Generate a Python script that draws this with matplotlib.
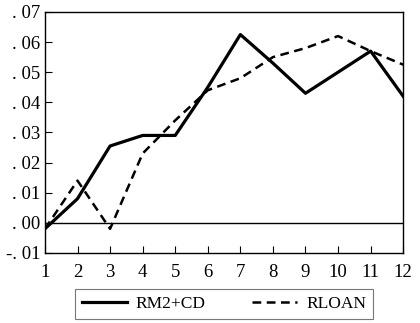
import matplotlib
matplotlib.use('Agg')
import matplotlib.pyplot as plt

months = [1, 2, 3, 4, 5, 6, 7, 8, 9, 10, 11, 12]
rm2_cd = [-0.002, 0.008, 0.0255, 0.029, 0.029, 0.045, 0.0625, 0.053, 0.043, 0.050, 0.057, 0.042]
rloan = [-0.002, 0.014, -0.002, 0.023, 0.034, 0.044, 0.048, 0.055, 0.058, 0.062, 0.057, 0.0525]

y_ticks = [-0.01, 0.0, 0.01, 0.02, 0.03, 0.04, 0.05, 0.06, 0.07]
y_labels = ['-. 01', '. 00', '. 01', '. 02', '. 03', '. 04', '. 05', '. 06', '. 07']

plt.rcParams['font.family'] = ['Liberation Serif', 'DejaVu Serif']

fig = plt.figure(figsize=(4.2, 3.23), dpi=100)
ax = fig.add_axes([0.107, 0.217, 0.853, 0.746])

ax.plot(months, rm2_cd, color='black', lw=2.3, label='RM2+CD')
ax.plot(months, rloan, color='black', lw=1.8, ls=(0, (3.5, 2.2)), label='RLOAN')
ax.axhline(0, color='black', lw=1.0)

ax.set_xlim(1, 12)
ax.set_ylim(-0.01, 0.07)
ax.set_xticks(months)
ax.set_yticks(y_ticks)
ax.set_yticklabels(y_labels)
ax.tick_params(direction='in', length=5, width=0.8, labelsize=13.5, colors='black')
ax.tick_params(axis='x', pad=8)
for s in ax.spines.values():
    s.set_linewidth(1.0)

leg = fig.legend(loc='center', bbox_to_anchor=(0.533, 0.059), ncol=2, fontsize=12.5,
                 frameon=True, fancybox=False, edgecolor='#555555', handlelength=2.6,
                 handletextpad=0.5, columnspacing=2.7, borderpad=0.4)
leg.get_frame().set_linewidth(0.8)

fig.savefig('out.png', dpi=100)
